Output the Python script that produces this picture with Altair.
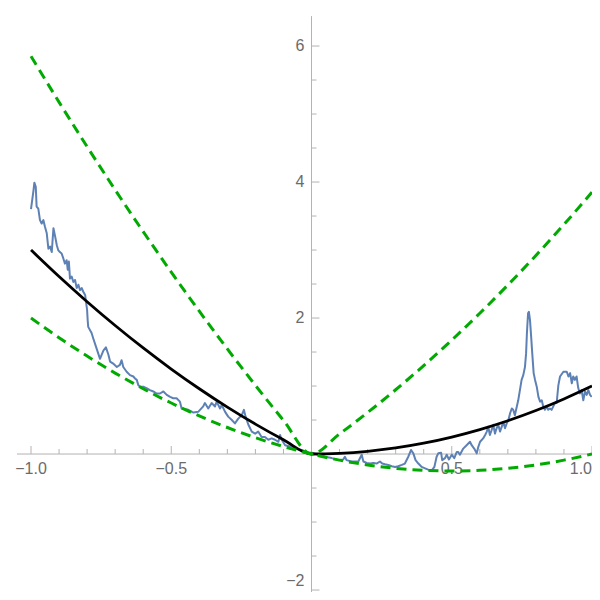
import altair as alt
import pandas as pd

# ---- data ----
curve_x = [-1.0, -0.9, -0.8, -0.7, -0.6, -0.5, -0.4, -0.3, -0.2, -0.1, 0.0,
           0.1, 0.2, 0.3, 0.4, 0.5, 0.6, 0.7, 0.8, 0.9, 1.0]
black_y = [3.0, 2.61, 2.24, 1.89, 1.56, 1.25, 0.96, 0.69, 0.44, 0.21, 0.0,
           0.01, 0.04, 0.09, 0.16, 0.25, 0.36, 0.49, 0.64, 0.81, 1.0]
upper_y = [5.85, 5.175, 4.52, 3.885, 3.27, 2.675, 2.10, 1.545, 1.01, 0.495, 0.0,
           0.295, 0.61, 0.945, 1.30, 1.675, 2.07, 2.485, 2.92, 3.375, 3.85]
lower_y = [2.0, 1.71, 1.44, 1.19, 0.96, 0.75, 0.56, 0.39, 0.24, 0.11, 0.0,
           -0.09, -0.16, -0.21, -0.24, -0.25, -0.24, -0.21, -0.16, -0.09, 0.0]

blue_x = [-1.000, -0.991, -0.988, -0.983, -0.980, -0.974, -0.968, -0.962, -0.956, -0.950,
          -0.944, -0.938, -0.932, -0.926, -0.920, -0.914, -0.908, -0.903, -0.897, -0.891,
          -0.885, -0.879, -0.873, -0.869, -0.865, -0.861, -0.855, -0.849, -0.843, -0.837,
          -0.831, -0.825, -0.819, -0.814, -0.807, -0.804, -0.800, -0.798, -0.796, -0.784,
          -0.778, -0.766, -0.754, -0.742, -0.733, -0.724, -0.718, -0.707, -0.694, -0.683,
          -0.677, -0.671, -0.659, -0.647, -0.635, -0.629, -0.623, -0.617, -0.611, -0.600,
          -0.588, -0.576, -0.564, -0.552, -0.540, -0.528, -0.516, -0.504, -0.493, -0.481,
          -0.469, -0.463, -0.439, -0.421, -0.404, -0.386, -0.380, -0.368, -0.356, -0.344,
          -0.338, -0.326, -0.320, -0.308, -0.297, -0.284, -0.273, -0.261, -0.249, -0.241,
          -0.235, -0.225, -0.213, -0.201, -0.190, -0.178, -0.166, -0.154, -0.142, -0.130,
          -0.118, -0.112, -0.106, -0.094, -0.077, -0.059, -0.035, -0.017, -0.005,
          0.001, 0.024, 0.048, 0.072, 0.096, 0.113, 0.119, 0.125, 0.143, 0.167,
          0.179, 0.185, 0.197, 0.209, 0.220, 0.232, 0.244, 0.252, 0.262, 0.274,
          0.286, 0.298, 0.309, 0.322, 0.333, 0.345, 0.355, 0.363, 0.371, 0.381,
          0.393, 0.405, 0.416, 0.429, 0.438, 0.446, 0.452, 0.462, 0.466, 0.476,
          0.482, 0.490, 0.500, 0.509, 0.518, 0.523, 0.529, 0.541, 0.553, 0.565,
          0.571, 0.580, 0.589, 0.595, 0.601, 0.612, 0.619, 0.625, 0.630, 0.636,
          0.642, 0.648, 0.654, 0.660, 0.666, 0.672, 0.678, 0.684, 0.690, 0.696,
          0.702, 0.708, 0.714, 0.719, 0.725, 0.732, 0.737, 0.743, 0.749, 0.755,
          0.761, 0.765, 0.768, 0.772, 0.775, 0.779, 0.783, 0.787, 0.792, 0.797,
          0.803, 0.809, 0.815, 0.821, 0.826, 0.832, 0.839, 0.844, 0.850, 0.856,
          0.862, 0.868, 0.874, 0.880, 0.886, 0.898, 0.910, 0.916, 0.922, 0.928,
          0.933, 0.939, 0.945, 0.951, 0.957, 0.963, 0.969, 0.975, 0.981, 0.987,
          0.993, 0.999]
blue_y = [3.60, 3.88, 3.99, 3.93, 3.64, 3.61, 3.44, 3.39, 3.44, 3.34,
          3.25, 3.02, 3.05, 2.97, 3.32, 3.20, 3.07, 3.00, 2.97, 2.95,
          2.88, 2.80, 2.85, 2.71, 2.83, 2.58, 2.61, 2.53, 2.56, 2.44,
          2.49, 2.41, 2.44, 2.39, 2.34, 2.24, 2.12, 1.97, 1.87, 1.78,
          1.70, 1.55, 1.40, 1.52, 1.57, 1.46, 1.36, 1.33, 1.28, 1.31,
          1.38, 1.28, 1.21, 1.16, 1.14, 1.11, 1.09, 1.01, 0.99, 0.99,
          0.97, 0.94, 0.92, 0.89, 0.89, 0.92, 0.87, 0.84, 0.82, 0.82,
          0.77, 0.67, 0.65, 0.61, 0.62, 0.70, 0.75, 0.67, 0.75, 0.70,
          0.77, 0.67, 0.72, 0.62, 0.55, 0.50, 0.45, 0.52, 0.57, 0.65,
          0.55, 0.43, 0.33, 0.30, 0.33, 0.25, 0.25, 0.21, 0.23, 0.21,
          0.18, 0.28, 0.21, 0.13, 0.11, 0.08, 0.06, 0.03, 0.02,
          0.02, -0.01, -0.04, -0.06, -0.09, -0.08, -0.04, -0.09, -0.11, -0.11,
          -0.01, -0.11, -0.13, -0.14, -0.13, -0.14, -0.11, -0.14, -0.15, -0.16,
          -0.18, -0.19, -0.18, -0.16, -0.14, -0.04, 0.06, 0.01, -0.09, -0.14,
          -0.19, -0.21, -0.23, -0.24, -0.19, -0.04, 0.01, 0.02, -0.09, -0.06,
          -0.01, -0.08, -0.01, -0.06, 0.03, 0.03, -0.01, 0.08, 0.13, 0.18,
          0.13, 0.08, 0.01, 0.11, 0.18, 0.23, 0.28, 0.33, 0.40, 0.28,
          0.35, 0.43, 0.30, 0.38, 0.43, 0.33, 0.40, 0.47, 0.38, 0.45,
          0.50, 0.60, 0.67, 0.65, 0.57, 0.70, 0.79, 0.94, 1.09, 1.16,
          1.28, 1.48, 1.78, 2.07, 2.09, 1.97, 1.73, 1.48, 1.19, 1.09,
          0.99, 0.84, 0.77, 0.79, 0.70, 0.65, 0.70, 0.65, 0.67, 0.65,
          0.70, 0.75, 0.75, 1.01, 1.14, 1.21, 1.21, 1.14, 1.19, 1.04,
          1.14, 1.09, 1.14, 0.97, 0.89, 0.94, 0.79, 0.92, 0.87, 0.94,
          0.87, 0.84]

x_axis_span = [-1.05, 1.0]
y_axis_span = [-2.03, 6.44]
x_major = [-1.0, -0.5, 0.5, 1.0]
x_major_labels = ["\u22121.0", "\u22120.5", "0.5", "1.0"]
x_minor = [-0.9, -0.8, -0.7, -0.6, -0.4, -0.3, -0.2, -0.1,
           0.1, 0.2, 0.3, 0.4, 0.6, 0.7, 0.8, 0.9]
y_major = [-2, 2, 4, 6]
y_major_labels = ["\u22122", "2", "4", "6"]
y_minor = [-1.5, -1.0, -0.5, 0.5, 1.0, 1.5, 2.5, 3.0, 3.5, 4.5, 5.0, 5.5]

# ---- scales ----
xs = alt.Scale(domain=[-1.082, 1.0], nice=False, zero=False)
ys = alt.Scale(domain=[-2.029, 6.559], nice=False, zero=False)
X = lambda f: alt.X(f, type="quantitative", scale=xs, axis=None)
Y = lambda f: alt.Y(f, type="quantitative", scale=ys, axis=None)

AXIS_COLOR = "#b3b3b3"
LABEL_COLOR = "#6b6b6b"
FONT = "Liberation Sans"
FS = 16

curves = pd.DataFrame({"x": curve_x, "black": black_y, "upper": upper_y, "lower": lower_y})
blue = pd.DataFrame({"x": blue_x, "y": blue_y})

x_axis_df = pd.DataFrame({"x": [x_axis_span[0]], "x2": [x_axis_span[1]], "y": [0.0]})
y_axis_df = pd.DataFrame({"y": [y_axis_span[0]], "y2": [y_axis_span[1]], "x": [0.0]})

x_axis_line = alt.Chart(x_axis_df).mark_rule(color=AXIS_COLOR, strokeWidth=1).encode(
    x=X("x"), x2="x2", y=Y("y"))
y_axis_line = alt.Chart(y_axis_df).mark_rule(color=AXIS_COLOR, strokeWidth=1).encode(
    y=Y("y"), y2="y2", x=X("x"))

xmaj_df = pd.DataFrame({"x": x_major, "y": [0.0] * len(x_major), "label": x_major_labels})
xmin_df = pd.DataFrame({"x": x_minor, "y": [0.0] * len(x_minor)})
ymaj_df = pd.DataFrame({"y": y_major, "x": [0.0] * len(y_major), "label": y_major_labels})
ymin_df = pd.DataFrame({"y": y_minor, "x": [0.0] * len(y_minor)})

x_maj_ticks = alt.Chart(xmaj_df).mark_tick(
    orient="vertical", size=8, thickness=1, yOffset=-4, color=AXIS_COLOR, opacity=1
).encode(x=X("x"), y=Y("y"))
x_min_ticks = alt.Chart(xmin_df).mark_tick(
    orient="vertical", size=5, thickness=1, yOffset=-2.5, color=AXIS_COLOR, opacity=1
).encode(x=X("x"), y=Y("y"))
y_maj_ticks = alt.Chart(ymaj_df).mark_tick(
    orient="horizontal", size=8, thickness=1, xOffset=4, color=AXIS_COLOR, opacity=1
).encode(x=X("x"), y=Y("y"))
y_min_ticks = alt.Chart(ymin_df).mark_tick(
    orient="horizontal", size=5, thickness=1, xOffset=2.5, color=AXIS_COLOR, opacity=1
).encode(x=X("x"), y=Y("y"))

x_labels = alt.Chart(xmaj_df).transform_filter("datum.x < 0.9").mark_text(
    dy=15, fontSize=FS, font=FONT, color=LABEL_COLOR, align="center", baseline="middle"
).encode(x=X("x"), y=Y("y"), text="label:N")
x_labels_edge = alt.Chart(xmaj_df).transform_filter("datum.x >= 0.9").mark_text(
    dy=15, dx=0, fontSize=FS, font=FONT, color=LABEL_COLOR, align="right", baseline="middle"
).encode(x=X("x"), y=Y("y"), text="label:N")
y_labels = alt.Chart(ymaj_df).transform_filter("datum.y > -1").mark_text(
    dx=-7, fontSize=FS, font=FONT, color=LABEL_COLOR, align="right", baseline="middle"
).encode(x=X("x"), y=Y("y"), text="label:N")
y_labels_edge = alt.Chart(ymaj_df).transform_filter("datum.y <= -1").mark_text(
    dx=-7, dy=-9, fontSize=FS, font=FONT, color=LABEL_COLOR, align="right", baseline="middle"
).encode(x=X("x"), y=Y("y"), text="label:N")

blue_line = alt.Chart(blue).mark_line(color="#5E81B5", strokeWidth=2, strokeJoin="round").encode(
    x=X("x"), y=Y("y"), order="x:Q")
black_line = alt.Chart(curves).mark_line(color="#000000", strokeWidth=2.8, interpolate="monotone").encode(
    x=X("x"), y=Y("black"), order="x:Q")
upper_line = alt.Chart(curves).mark_line(color="#00AA00", strokeWidth=3, strokeDash=[10, 6],
                                         interpolate="monotone").encode(
    x=X("x"), y=Y("upper"), order="x:Q")
lower_line = alt.Chart(curves).mark_line(color="#00AA00", strokeWidth=3, strokeDash=[10, 6],
                                         interpolate="monotone").encode(
    x=X("x"), y=Y("lower"), order="x:Q")

chart = alt.layer(
    x_axis_line, y_axis_line, x_maj_ticks, x_min_ticks, y_maj_ticks, y_min_ticks,
    x_labels, x_labels_edge, y_labels, y_labels_edge,
    blue_line, black_line, upper_line, lower_line
).properties(
    width=584, height=584, padding=0, autosize=alt.AutoSizeParams(type="none")
).configure_view(stroke=None)

chart.save("out.html", embed_options={"renderer": "svg", "actions": False})
